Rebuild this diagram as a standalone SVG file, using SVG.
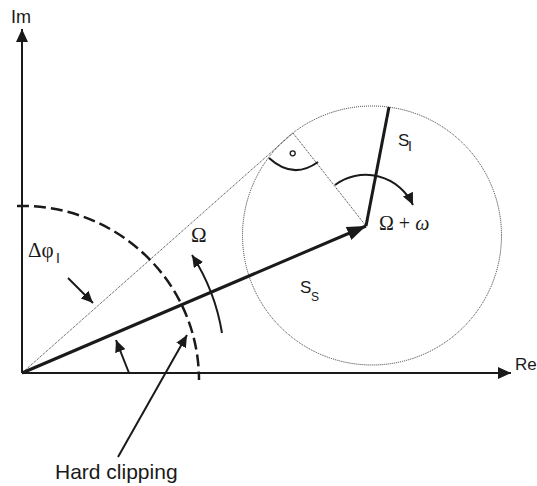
<svg xmlns="http://www.w3.org/2000/svg" width="537" height="486" viewBox="0 0 537 486">
<style>
.ax{stroke:#1a1a1a;stroke-width:2;fill:none}
.thick{stroke:#1a1a1a;stroke-width:3;fill:none}
.med{stroke:#1a1a1a;stroke-width:2;fill:none}
.dot{stroke:#333;stroke-width:1;stroke-dasharray:1 1;fill:none}
.dash{stroke:#1a1a1a;stroke-width:2.5;stroke-dasharray:12 5;fill:none}
.sans{font-family:"Liberation Sans",Arial,sans-serif;fill:#1a1a1a}
.serif{font-family:"Liberation Serif","Times New Roman",serif;fill:#1a1a1a}
</style>
<defs>
<marker id="ah" markerUnits="userSpaceOnUse" markerWidth="14" markerHeight="12" refX="13" refY="6" orient="auto">
<path d="M0,0 L13,6 L0,12 z" fill="#1a1a1a"/>
</marker>
<marker id="ahs" markerUnits="userSpaceOnUse" markerWidth="13" markerHeight="11" refX="12" refY="5.5" orient="auto">
<path d="M0,0 L12,5.5 L0,11 z" fill="#1a1a1a"/>
</marker>
<marker id="ahb" markerUnits="userSpaceOnUse" markerWidth="20" markerHeight="14" refX="19" refY="7" orient="auto">
<path d="M0,0 L19,7 L0,14 z" fill="#1a1a1a"/>
</marker>
</defs>
<g id="axes">
<line class="ax" x1="22" y1="373" x2="22" y2="29" marker-end="url(#ah)"/>
<line class="ax" x1="22" y1="373" x2="511" y2="373" marker-end="url(#ah)"/>
<text class="sans" x="11" y="23" font-size="18">Im</text>
<text class="sans" x="515" y="370" font-size="17">Re</text>
</g>
<g id="circle">
<circle class="dot" cx="372" cy="235.5" r="129.5"/>
</g>
<g id="connectors">
<line class="dot" x1="22" y1="373" x2="293" y2="133"/>
<line class="dot" x1="293" y1="133" x2="366" y2="226"/>
<path class="med" d="M269,158 Q293,180 318,162"/>
<circle cx="292.7" cy="153.3" r="2.5" fill="none" stroke="#1a1a1a" stroke-width="1.3"/>
<line class="thick" x1="22" y1="373" x2="366" y2="226" marker-end="url(#ahb)"/>
<line class="thick" x1="366" y1="226" x2="389" y2="107"/>
<path class="med" d="M335,185 A52,52 0 0 1 413,205" marker-end="url(#ahs)"/>
<path class="dash" d="M17,206 A177,174 0 0 1 199,380"/>
<path class="med" d="M222,333 A205,205 0 0 0 192,255" marker-end="url(#ahs)"/>
<line class="med" x1="129" y1="373" x2="116" y2="340" marker-end="url(#ahs)"/>
<line class="med" x1="68" y1="278" x2="93" y2="303" marker-end="url(#ahs)"/>
<line class="med" x1="118" y1="457" x2="187" y2="335" marker-end="url(#ahs)"/>
</g>
<g id="labels">
<text class="serif" x="28" y="257" font-size="21">Δφ</text>
<text class="sans" x="56" y="263" font-size="14">I</text>
<text class="serif" x="191" y="242" font-size="21">Ω</text>
<text class="serif" x="379" y="230" font-size="20">Ω + <tspan font-style="italic">ω</tspan></text>
<text class="sans" x="398" y="146" font-size="17">S</text>
<text class="sans" x="408" y="151" font-size="14">I</text>
<text class="sans" x="300" y="293" font-size="17">S</text>
<text class="sans" x="311" y="301" font-size="12">S</text>
<text class="sans" x="55" y="479" font-size="21">Hard clipping</text>
</g>
</svg>
